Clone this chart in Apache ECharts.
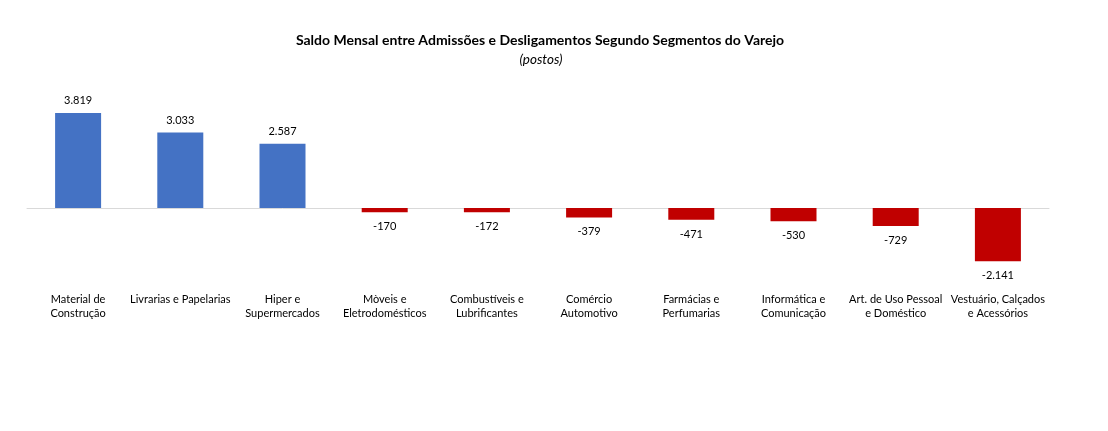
<!DOCTYPE html>
<html><head><meta charset="utf-8">
<script src="https://cdn.jsdelivr.net/npm/echarts@6/dist/echarts.min.js"></script>
<style>html,body{margin:0;padding:0;background:#fff}#c{width:1108px;height:431px}</style>
</head><body><div id="c"></div>
<script>
const categories = ['Material de\nConstrução','Livrarias e Papelarias','Hiper e\nSupermercados','Mòveis e\nEletrodomésticos','Combustíveis e\nLubrificantes','Comércio\nAutomotivo','Farmácias e\nPerfumarias','Informática e\nComunicação','Art. de Uso Pessoal\ne Doméstico','Vestuário, Calçados\ne Acessórios'];
const values = [3819,3033,2587,-170,-172,-379,-471,-530,-729,-2141];
const titleText = 'Saldo Mensal entre Admissões e Desligamentos Segundo Segmentos do Varejo';
const subtitleText = '(postos)';

const FONT = 'Lato';
function fmt(v){ const s = Math.abs(v).toString().replace(/\B(?=(\d{3})+(?!\d))/g,'.'); return (v<0?'-':'')+s; }

const chart = echarts.init(document.getElementById('c'));
chart.setOption({
  animation:false,
  textStyle:{fontFamily:FONT},
  title:[
    {text:titleText,left:535,top:28,textAlign:'center',textStyle:{fontSize:14,fontWeight:'bold',color:'#000',fontFamily:FONT}},
    {text:subtitleText,left:536,top:48,textAlign:'center',textStyle:{fontSize:13.5,fontStyle:'italic',fontWeight:'normal',color:'#000',fontFamily:FONT}}
  ],
  grid:{left:27,right:59,top:108.5,bottom:141,containLabel:false},
  xAxis:[
    {type:'category',data:categories,axisLine:{show:false,onZero:false},axisTick:{show:false},
     axisLabel:{interval:0,margin:2,fontSize:11,lineHeight:14,color:'#000',fontFamily:FONT}},
    {type:'category',data:categories,position:'bottom',axisLine:{show:true,onZero:true,lineStyle:{color:'#d9d9d9',width:1}},axisTick:{show:false},axisLabel:{show:false}}
  ],
  yAxis:{type:'value',min:-3300,max:4000,show:false,splitLine:{show:false}},
  series:[{
    type:'bar',xAxisIndex:0,barWidth:46,
    data:values.map(v=>({value:v,itemStyle:{color:v>=0?'#4472C4':'#C00000'},
      label:{position:v>=0?'top':'bottom',distance:v>=0?7:9}})),
    label:{show:true,fontSize:11,color:'#000',fontFamily:FONT,formatter:p=>fmt(p.value)}
  }]
});
</script></body></html>
